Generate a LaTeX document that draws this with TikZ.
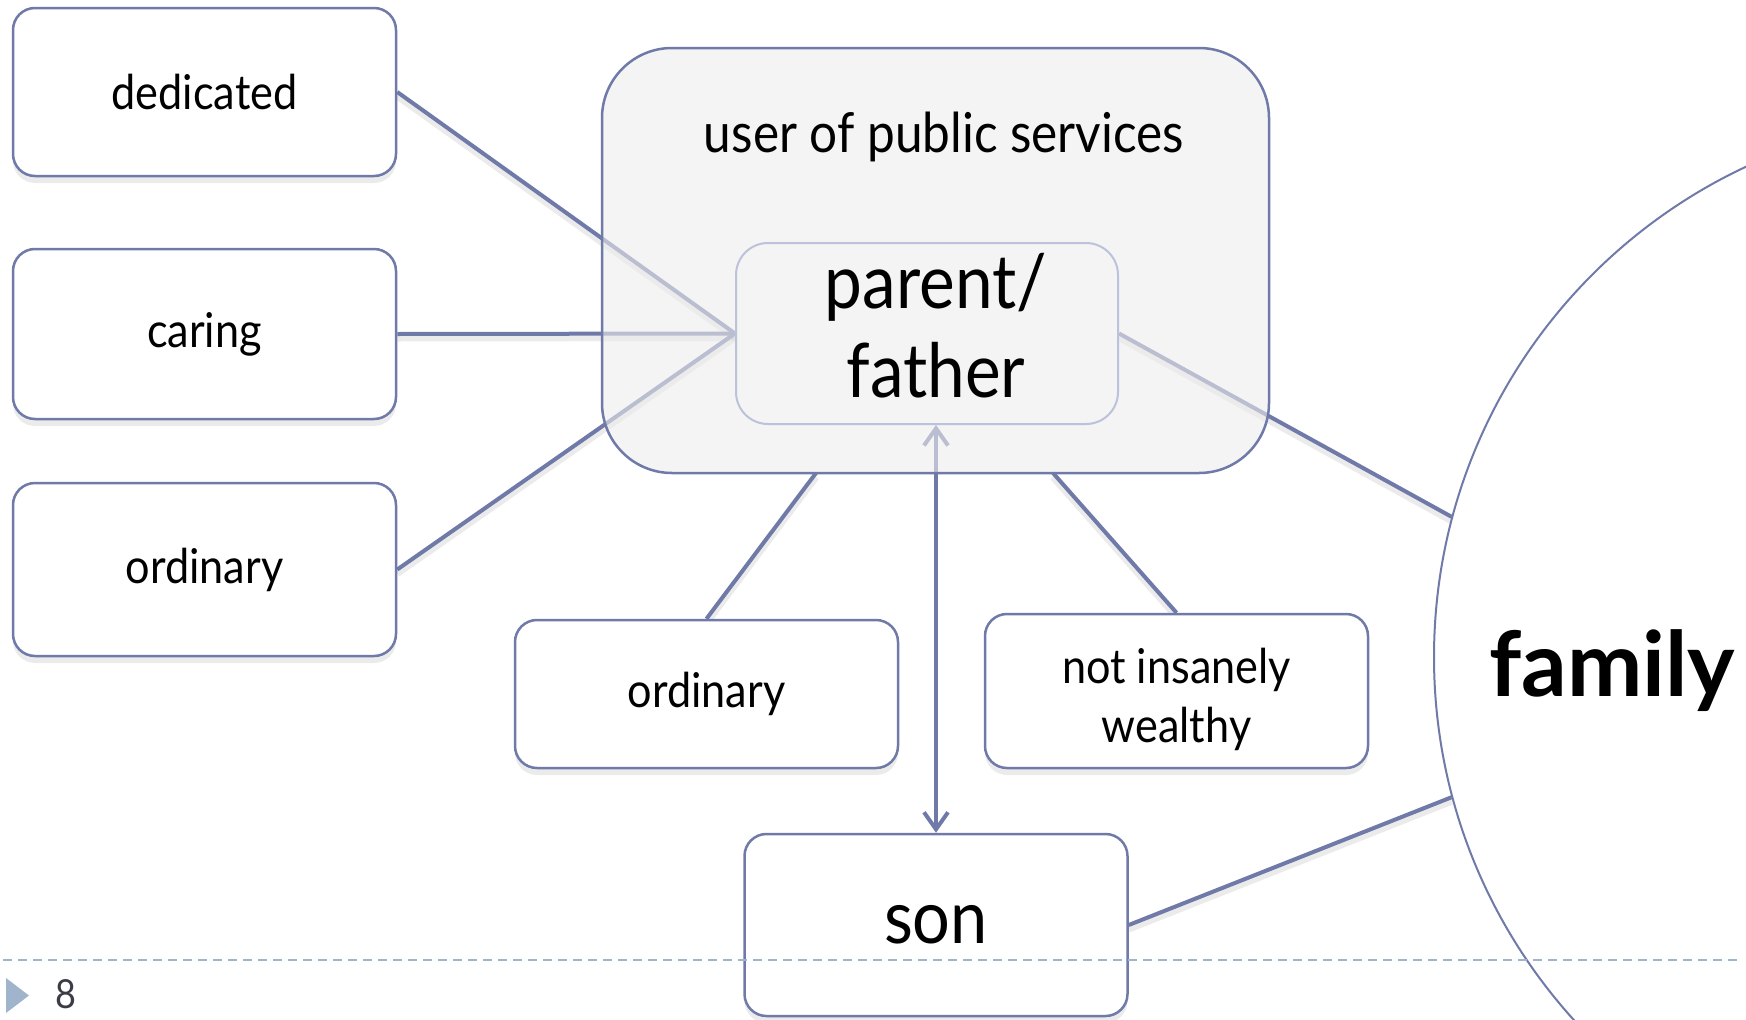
\documentclass[tikz,border=0pt]{standalone}
\usepackage{fontspec}
\setmainfont{Lato}[FakeStretch=0.9]
\newfontfamily\famfont{Lato}
\usetikzlibrary{arrows.meta,shadows}
\definecolor{edge}{RGB}{112,122,168}
\definecolor{paleedge}{RGB}{188,194,218}
\definecolor{boxfill}{RGB}{236,236,236}
\definecolor{innerfill}{RGB}{244,244,244}
\definecolor{dashc}{RGB}{160,180,204}
\definecolor{numc}{RGB}{60,60,70}
\pgfdeclarelayer{bg}
\pgfsetlayers{bg,main}
\tikzset{
  wbox/.style={draw=edge, line width=2.5pt, rounded corners=22pt, fill=white,
    minimum width=383pt, align=center, inner sep=0pt,
    font=\fontsize{48}{59}\selectfont,
    drop shadow={opacity=0.16, shadow xshift=0pt, shadow yshift=-7pt}},
  link/.style={draw=edge, line width=4pt,
    preaction={draw=black, draw opacity=0.08, line width=7pt, transform canvas={yshift=-4pt}}},
  mybarb/.tip={Straight Barb[length=17pt,width=24pt]},
}
\begin{document}
\begin{tikzpicture}[x=1pt,y=-1pt]
\useasboundingbox (0,0) rectangle (1746,1020);
% family circle
\node[draw=edge, line width=2pt, circle, fill=white, minimum size=1082pt, inner sep=0pt] (fam) at (1975,657) {};
\node[font=\famfont\bfseries\fontsize{90}{100}\selectfont, anchor=base] (famtext) at (1612,696) {family};
% boxes
\node[wbox, minimum height=168pt] (ded) at (204.5,92) {dedicated};
\node[wbox, minimum height=170pt] (car) at (204.5,334) {caring};
\node[wbox, minimum height=173pt] (ordl) at (204.5,569.5) {ordinary};
\node[draw=edge, line width=2.5pt, rounded corners=70pt, fill=boxfill, fill opacity=0.6,
      minimum width=667pt, minimum height=425pt] (big) at (935.5,260.5) {};
\node[font=\fontsize{55}{66}\selectfont, anchor=base] (bigtitle) at (944,152) {user of public services};
\node[draw=paleedge, line width=2pt, rounded corners=32pt, fill=innerfill,
      minimum width=382pt, minimum height=181pt, inner sep=0pt] (par) at (927,333.5) {};
\node[align=center, inner sep=0pt, font=\fontsize{75}{89}\selectfont] (partext) at (936,326) {parent/\\father};
\node[wbox, minimum height=148pt] (ordm) at (706.5,694) {ordinary};
\node[wbox, minimum height=154pt] (wea) at (1176.5,691) {};
\node[align=center, inner sep=0pt, font=\fontsize{48}{59}\selectfont] (weatext) at (1176.5,699) {not insanely\\wealthy};
\node[wbox, minimum height=182pt, font=\fontsize{74}{80}\selectfont] (son) at (936,925) {son};
\coordinate (b1) at (816,473);
\coordinate (b2) at (1053,473);
% connectors
\begin{pgfonlayer}{bg}
\draw[link] (ded.east) -- (par.west);
\draw[link] (car.east) -- (par.west);
\draw[link] (ordl.east) -- (par.west);
\draw[link] (par.east) -- (fam.165);
\draw[link] (son.east) -- (fam.195);
\draw[link] (b1) -- (ordm.north);
\draw[link] (b2) -- (wea.north);
\draw[draw=edge, line width=4pt, {mybarb}-{mybarb}] (son.north) -- (son.north |- par.south);
\end{pgfonlayer}
% footer
\draw[dashc, line width=1.5pt, dash pattern=on 9pt off 6pt] (3,960) coordinate (dl) -- (1740,960) coordinate (dr);
\fill[dashc] (6,978) -- (29,995.5) -- (6,1013) -- cycle;
\node[text=numc, font=\fontsize{40}{48}\selectfont] (pnum) at (66,994) {8};
\end{tikzpicture}
\end{document}
